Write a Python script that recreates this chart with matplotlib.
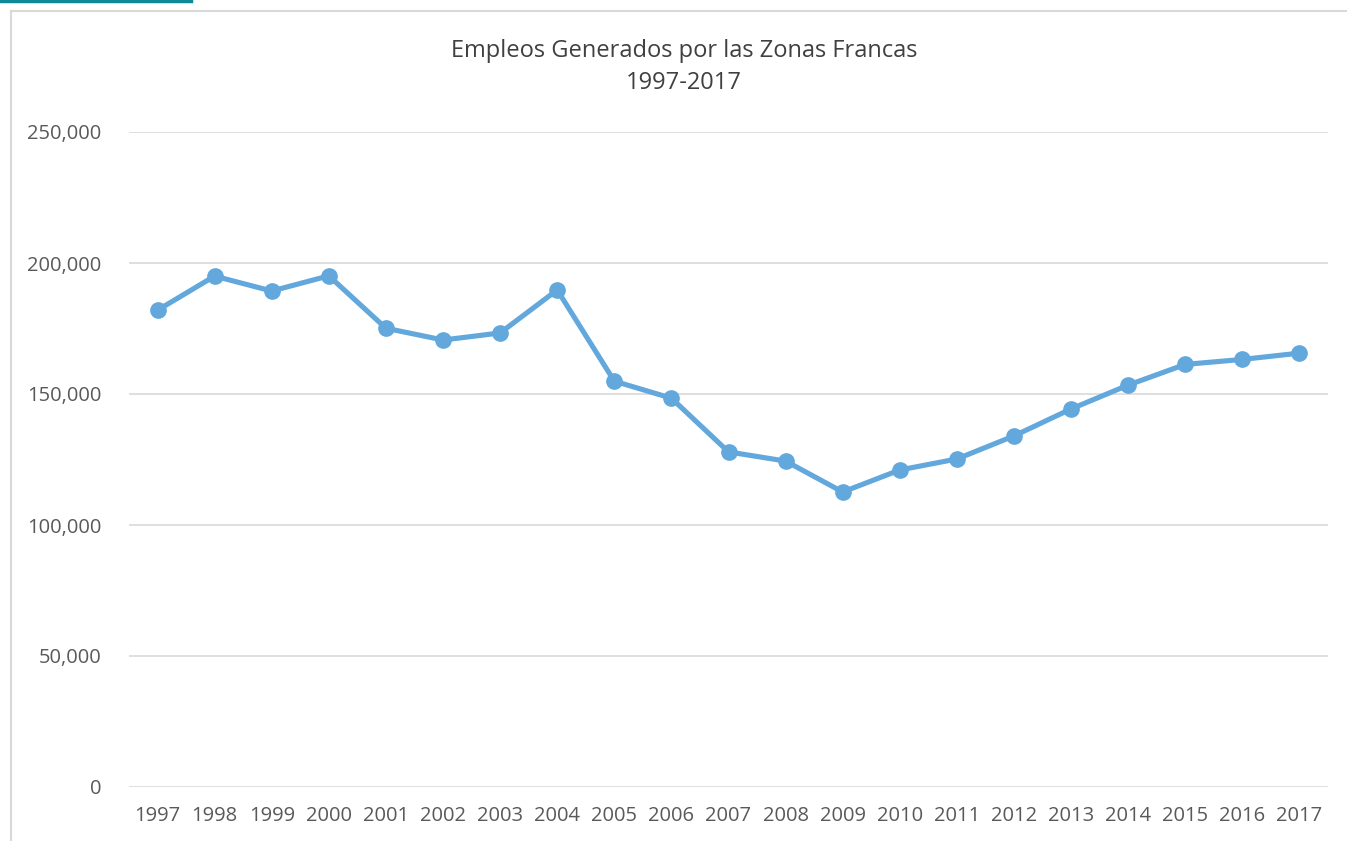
import matplotlib.pyplot as plt
from matplotlib.ticker import FuncFormatter
from matplotlib.lines import Line2D

anios = ['1997', '1998', '1999', '2000', '2001', '2002', '2003', '2004', '2005', '2006', '2007',
         '2008', '2009', '2010', '2011', '2012', '2013', '2014', '2015', '2016', '2017']
empleos = [182000, 195000, 189300, 195100, 175100, 170600, 173300, 189700, 154900, 148400, 127900,
           124400, 112600, 121000, 125200, 134000, 144300, 153400, 161300, 163200, 165600]

plt.rcParams['font.family'] = ['Open Sans', 'DejaVu Sans']

fig = plt.figure(figsize=(13.47, 8.41), dpi=100)
ax = fig.add_axes([129 / 1347, 1 - 787 / 841, (1328 - 129) / 1347, (787 - 132) / 841])

x = list(range(len(anios)))
ax.plot(x, empleos, '-o', color='#62a8dc', linewidth=3.7, markersize=11, zorder=3)

ax.set_xlim(-0.5, len(anios) - 0.5)
ax.set_ylim(0, 250000)
ax.set_yticks(range(0, 250001, 50000))
ax.yaxis.set_major_formatter(FuncFormatter(lambda v, p: f'{int(v):,}'))
ax.set_xticks(x)
ax.set_xticklabels(anios)
ax.grid(axis='y', color='#d9d9d9', linewidth=1.2)
ax.set_axisbelow(True)
for s in ax.spines.values():
    s.set_visible(False)
ax.tick_params(axis='both', length=0, labelsize=14.5, colors='#595959')
ax.tick_params(axis='y', pad=20)
ax.tick_params(axis='x', pad=14)

fig.text(0.508, 0.92, 'Empleos Generados por las Zonas Francas\n1997-2017', ha='center', va='center',
         fontsize=17, color='#404040', linespacing=1.45)

# marco del grafico y linea superior
fig.add_artist(Line2D([11 / 1347, 11 / 1347], [0, 1 - 11 / 841], transform=fig.transFigure, color='#d9d9d9', linewidth=1.5))
fig.add_artist(Line2D([11 / 1347, 1], [1 - 11 / 841, 1 - 11 / 841], transform=fig.transFigure, color='#d9d9d9', linewidth=1.5))
fig.add_artist(Line2D([0, 191 / 1347], [1 - 1 / 841, 1 - 1 / 841], transform=fig.transFigure, color='#0e8a96', linewidth=2.5))

fig.savefig('out.png', dpi=100)
